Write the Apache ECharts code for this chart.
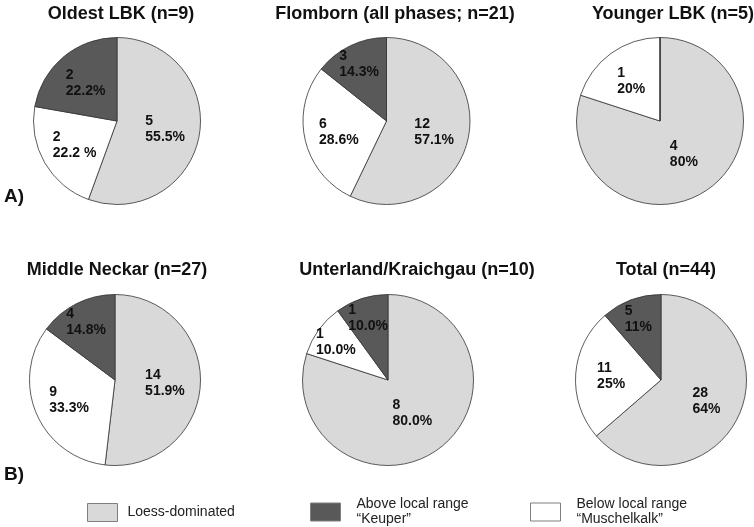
<!DOCTYPE html>
<html>
<head>
<meta charset="utf-8">
<script src="https://cdn.jsdelivr.net/npm/echarts@6/dist/echarts.min.js"></script>
<style>
html,body{margin:0;padding:0;background:#fff;}
#chart{width:754px;height:527px;}
</style>
</head>
<body>
<div id="chart"></div>
<script>
// ---- data ----
// slice order (clockwise from 12 o'clock): Loess, Muschelkalk, Keuper
const categories = ['Loess-dominated', 'Below local range\n\u201CMuschelkalk\u201D', 'Above local range\n\u201CKeuper\u201D'];
const legendNames = ['Loess-dominated', 'Above local range\n\u201CKeuper\u201D', 'Below local range\n\u201CMuschelkalk\u201D'];
const panelTitles = ['Oldest LBK (n=9)', 'Flomborn (all phases; n=21)', 'Younger LBK (n=5)',
                     'Middle Neckar (n=27)', 'Unterland/Kraichgau (n=10)', 'Total (n=44)'];
const rowLabels = ['A)', 'B)'];

const oldestLBK = [5, 2, 2];
const flomborn = [12, 6, 3];
const youngerLBK = [4, 1, 0];
const middleNeckar = [14, 9, 4];
const unterland = [8, 1, 1];
const totalAll = [28, 11, 5];

const oldestLBKPct = ['55.5%', '22.2 %', '22.2%'];
const flombornPct = ['57.1%', '28.6%', '14.3%'];
const youngerLBKPct = ['80%', '20%', '0%'];
const middleNeckarPct = ['51.9%', '33.3%', '14.8%'];
const unterlandPct = ['80.0%', '10.0%', '10.0%'];
const totalAllPct = ['64%', '25%', '11%'];

const seriesValues = [oldestLBK, flomborn, youngerLBK, middleNeckar, unterland, totalAll];
const seriesPct = [oldestLBKPct, flombornPct, youngerLBKPct, middleNeckarPct, unterlandPct, totalAllPct];

// ---- styling / layout ----
const sliceColors = ['#d9d9d9', '#ffffff', '#595959'];
const FONT = '"Liberation Sans", Arial, sans-serif';
const layout = [
  {cx: 117, cy: 121, r: 83.5, tx: 121, ty: 5},
  {cx: 386.5, cy: 121, r: 83.5, tx: 395, ty: 5},
  {cx: 660, cy: 121, r: 83.5, tx: 673, ty: 5},
  {cx: 115, cy: 380, r: 85.5, tx: 117, ty: 261},
  {cx: 388, cy: 380, r: 85.5, tx: 417, ty: 261},
  {cx: 661, cy: 380, r: 85.5, tx: 666, ty: 261}
];

function buildData(values, pcts, r) {
  const sum = values.reduce((a, b) => a + b, 0);
  let cum = 0;
  return values.map((v, i) => {
    const share = v / sum;
    const mid = (cum + v / 2) / sum * 2 * Math.PI;
    cum += v;
    const f = share < 0.16 ? 0.72 : (share > 0.7 ? 0.45 : 0.55);
    const d = (f - 0.5) * r;
    return {
      name: categories[i],
      value: v,
      itemStyle: {color: sliceColors[i]},
      label: {
        show: v > 0,
        offset: [d * Math.sin(mid), -d * Math.cos(mid)],
        formatter: '{a|' + v + '}\n{a|' + pcts[i] + '}'
      }
    };
  });
}

const series = seriesValues.map((vals, k) => ({
  type: 'pie',
  center: [layout[k].cx, layout[k].cy],
  radius: layout[k].r,
  startAngle: 90,
  clockwise: true,
  avoidLabelOverlap: false,
  silent: true,
  animation: false,
  labelLayout: {hideOverlap: false, moveOverlap: null},
  itemStyle: {borderColor: '#333333', borderWidth: 0.8},
  emphasis: {disabled: true},
  labelLine: {show: false},
  label: {
    position: 'inside',
    fontFamily: FONT,
    fontWeight: 'bold',
    fontSize: 14,
    lineHeight: 16,
    color: '#111',
    rich: {
      a: {align: 'left', fontFamily: FONT, fontWeight: 'bold', fontSize: 14, lineHeight: 16, color: '#111'}
    }
  },
  data: buildData(vals, seriesPct[k], layout[k].r)
}));

const titles = panelTitles.map((t, k) => ({
  text: t,
  left: layout[k].tx,
  top: layout[k].ty,
  textAlign: 'center',
  padding: 0,
  textStyle: {fontFamily: FONT, fontWeight: 'bold', fontSize: 18, color: '#111'}
}));

const legendBase = {
  orient: 'horizontal',
  padding: 0,
  itemWidth: 30,
  itemHeight: 18,
  icon: 'rect',
  selectedMode: false,
  itemStyle: {borderColor: '#7f7f7f', borderWidth: 1},
  textStyle: {fontFamily: FONT, fontSize: 14, lineHeight: 15, color: '#222', padding: [0, 0, 0, 8]}
};
const legends = [
  Object.assign({}, legendBase, {data: [legendNames[0]], left: 87, top: 503, textStyle: Object.assign({}, legendBase.textStyle, {padding: [0, 0, 0, 5]})}),
  Object.assign({}, legendBase, {data: [legendNames[1]], left: 310, top: 497, textStyle: Object.assign({}, legendBase.textStyle, {padding: [0, 0, 0, 11]})}),
  Object.assign({}, legendBase, {data: [legendNames[2]], left: 530, top: 497, textStyle: Object.assign({}, legendBase.textStyle, {padding: [0, 0, 0, 11]})})
];

const chart = echarts.init(document.getElementById('chart'), null, {renderer: 'canvas'});
chart.setOption({
  backgroundColor: '#fff',
  animation: false,
  title: titles,
  legend: legends,
  graphic: [
    {type: 'text', left: 4, top: 187, style: {text: rowLabels[0], font: 'bold 19px ' + FONT, fill: '#111'}},
    {type: 'text', left: 4, top: 465, style: {text: rowLabels[1], font: 'bold 19px ' + FONT, fill: '#111'}}
  ],
  series: series
});
</script>
</body>
</html>
